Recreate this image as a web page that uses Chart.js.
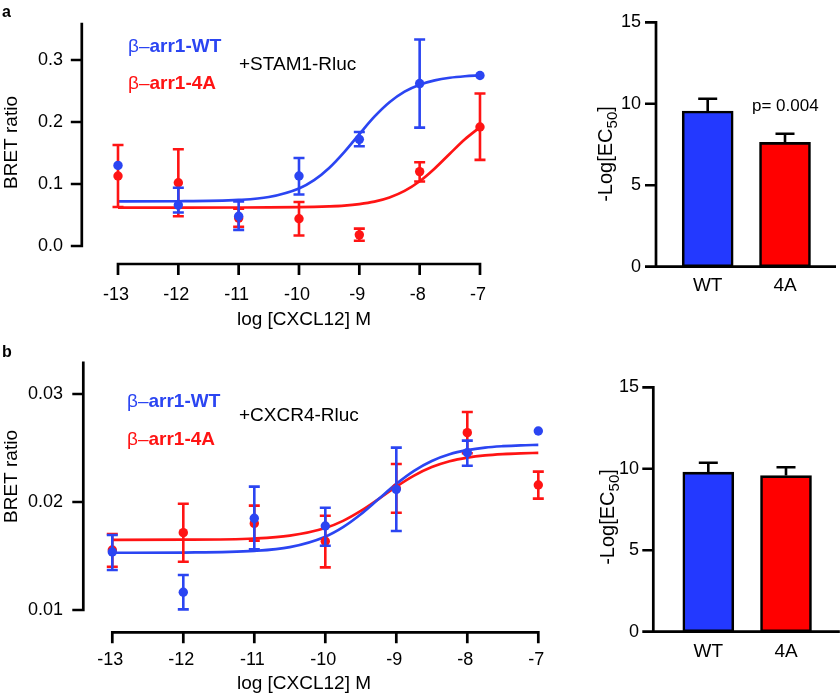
<!DOCTYPE html>
<html><head><meta charset="utf-8">
<script src="https://cdn.jsdelivr.net/npm/chart.js@4.4.1/dist/chart.umd.min.js"></script>
<style>
html,body{margin:0;padding:0;background:#fff;}
body{width:840px;height:695px;position:relative;overflow:hidden;font-family:'Liberation Sans',Arial,Helvetica,sans-serif;color:#000;}
canvas{position:absolute;}
.t{position:absolute;white-space:nowrap;line-height:1;transform:translateY(-50%);}
.r{position:absolute;white-space:nowrap;line-height:1;transform:translate(-50%,-50%) rotate(-90deg);}
.n{font-weight:400;}
.b{font-weight:700;}
</style></head><body>
<canvas id="ca" width="560" height="340" style="left:0;top:0;width:560px;height:340px"></canvas>
<canvas id="cc" width="560" height="395" style="left:0;top:300px;width:560px;height:395px"></canvas>
<canvas id="cb" width="280" height="340" style="left:560px;top:0;width:280px;height:340px"></canvas>
<canvas id="cd" width="280" height="355" style="left:560px;top:340px;width:280px;height:355px"></canvas>

<div class="t b" style="left:2px;top:11.5px;font-size:16px">a</div>
<div class="t b" style="left:2px;top:352px;font-size:16px">b</div>

<div class="t" style="left:128px;top:45px;font-size:19px;color:#2b45f2"><span class="n">β–</span><span class="b">arr1-WT</span></div>
<div class="t" style="left:128px;top:82px;font-size:19px;color:#ff1414"><span class="n">β–</span><span class="b">arr1-4A</span></div>
<div class="t" style="left:239px;top:63px;font-size:19px">+STAM1-Rluc</div>

<div class="t" style="left:127px;top:400px;font-size:19px;color:#2b45f2"><span class="n">β–</span><span class="b">arr1-WT</span></div>
<div class="t" style="left:127px;top:438px;font-size:19px;color:#ff1414"><span class="n">β–</span><span class="b">arr1-4A</span></div>
<div class="t" style="left:239px;top:414px;font-size:19px">+CXCR4-Rluc</div>

<div class="t" style="left:752px;top:104.5px;font-size:17px">p= 0.004</div>

<div class="r" style="left:605px;top:153.7px;font-size:20px">-Log[EC<sub style="font-size:15px;vertical-align:-0.3em;line-height:0">50</sub>]</div>
<div class="r" style="left:606.7px;top:517px;font-size:20px">-Log[EC<sub style="font-size:15px;vertical-align:-0.3em;line-height:0">50</sub>]</div>

<script>
// ---------- data ----------
const doseX = [-13, -12, -11, -10, -9, -8, -7];
const xTickVals = [-13, -12, -11, -10, -9, -8, -7];
const yTicksA = [0, 0.1, 0.2, 0.3];
const yTicksB = [0.01, 0.02, 0.03];
const ecTicks = [0, 5, 10, 15];

// panel a (+STAM1-Rluc): means and error-bar ends
const wtA   = [0.130, 0.066, 0.048, 0.113, 0.172, 0.262, 0.275];
const wtHiA = [null, 0.094, 0.072, 0.142, 0.184, 0.333, null];
const wtLoA = [null, 0.054, 0.026, 0.083, 0.161, 0.191, null];
const fourA_A   = [0.113, 0.102, 0.045, 0.044, 0.018, 0.120, 0.192];
const fourA_HiA = [0.163, 0.156, 0.060, 0.071, 0.028, 0.135, 0.246];
const fourA_LoA = [0.063, 0.048, 0.031, 0.017, 0.0085, 0.104, 0.139];

// panel b (+CXCR4-Rluc)
const wtB   = [0.01537, 0.01164, 0.01849, 0.01778, 0.02117, 0.02457, 0.02657];
const wtHiB = [0.01694, 0.01324, 0.02142, 0.01947, 0.02503, 0.02568, null];
const wtLoB = [0.01370, 0.01006, 0.01562, 0.01595, 0.01731, 0.02336, null];
const fourA_B   = [0.01556, 0.01716, 0.01802, 0.01636, 0.02127, 0.02642, 0.02157];
const fourA_HiB = [0.01704, 0.01984, 0.01966, 0.01873, 0.02352, 0.02833, 0.02281];
const fourA_LoB = [0.01400, 0.01447, 0.01642, 0.01395, 0.01901, 0.02451, 0.02031];

// fitted curves
const curveX = [-13, -12, -11, -10.5, -10, -9.75, -9.5, -9.25, -9, -8.75, -8.5, -8.25, -8, -7.75, -7.5, -7.25, -7];
const wtFitA    = [0.0720, 0.0722, 0.0743, 0.0790, 0.0927, 0.1061, 0.1257, 0.1513, 0.1804, 0.2086, 0.2319, 0.2490, 0.2602, 0.2672, 0.2714, 0.2738, 0.2752];
const fourAFitA = [0.0620, 0.0620, 0.0621, 0.0622, 0.0626, 0.0630, 0.0638, 0.0651, 0.0675, 0.0715, 0.0783, 0.0889, 0.1045, 0.1252, 0.1489, 0.1722, 0.1917];
const wtFitB    = [0.01530, 0.01532, 0.01547, 0.01582, 0.01679, 0.01767, 0.01886, 0.02027, 0.02168, 0.02289, 0.02380, 0.02442, 0.02480, 0.02504, 0.02517, 0.02525, 0.02529];
const fourAFitB = [0.01650, 0.01651, 0.01662, 0.01688, 0.01759, 0.01825, 0.01917, 0.02027, 0.02142, 0.02244, 0.02323, 0.02377, 0.02411, 0.02432, 0.02444, 0.02451, 0.02455];

// -Log[EC50] bars
const ecLabels = ['WT', '4A'];
const ecA = [9.55, 7.63];
const ecErrA = [0.76, 0.53];
const ecB = [9.79, 9.58];
const ecErrB = [0.58, 0.51];

// ---------- styling ----------
const FONT = "'Liberation Sans', Arial, Helvetica, sans-serif";
Chart.defaults.font.family = FONT;
Chart.defaults.color = '#000';
const BLUE = '#2b45f2', RED = '#ff1414', BAR_BLUE = '#2339ff', BAR_RED = '#ff0000';
const AXIS_W = 2.7;

const errorBars = {
  id: 'errorBars',
  beforeDatasetDraw(chart, args) {
    const ds = chart.data.datasets[args.index];
    if (!ds.errHi) return;
    const y = chart.scales.y, ctx = chart.ctx;
    ctx.save();
    ctx.strokeStyle = ds.errColor || ds.backgroundColor;
    ctx.lineWidth = 2.6;
    ctx.lineCap = 'butt';
    args.meta.data.forEach((el, i) => {
      const hi = ds.errHi[i];
      const lo = ds.errLo ? ds.errLo[i] : null;
      if (hi == null && lo == null) return;
      const px = el.x;
      const yTop = hi != null ? y.getPixelForValue(hi) : el.y;
      const yBot = lo != null ? y.getPixelForValue(lo) : el.y;
      const c = ds.capHalf;
      ctx.beginPath();
      ctx.moveTo(px, yTop); ctx.lineTo(px, yBot);
      if (hi != null) { ctx.moveTo(px - c, yTop); ctx.lineTo(px + c, yTop); }
      if (lo != null) { ctx.moveTo(px - c, yBot); ctx.lineTo(px + c, yBot); }
      ctx.stroke();
    });
    ctx.restore();
  }
};

const offsetAxes = {
  id: 'offsetAxes',
  afterDraw(chart, args, o) {
    const {ctx, chartArea: ca, scales: {x, y}} = chart;
    const lw = AXIS_W;
    const yx = o.yAxisValue != null ? x.getPixelForValue(o.yAxisValue) : ca.left - o.yGap;
    const xy = ca.bottom;
    const x0 = o.xFrom != null ? x.getPixelForValue(o.xFrom) - lw / 2 : yx - lw / 2;
    const x1 = o.xTo != null ? x.getPixelForValue(o.xTo) + lw / 2 : ca.right + o.xOver;
    const y0 = y.getPixelForValue(o.yFrom), y1 = y.getPixelForValue(o.yTo);
    ctx.save();
    ctx.strokeStyle = '#000';
    ctx.lineWidth = lw;
    ctx.lineCap = 'butt';
    ctx.beginPath();
    ctx.moveTo(yx, y0 + lw / 2); ctx.lineTo(yx, y1);
    y.ticks.forEach(t => {
      const p = y.getPixelForValue(t.value);
      ctx.moveTo(yx - o.tickLen, p); ctx.lineTo(yx + lw / 2, p);
    });
    ctx.moveTo(x0, xy); ctx.lineTo(x1, xy);
    if (o.xTickMarks) {
      x.ticks.forEach(t => {
        const p = x.getPixelForValue(t.value);
        ctx.moveTo(p, xy - lw / 2); ctx.lineTo(p, xy + o.tickLen);
      });
    }
    ctx.stroke();
    ctx.restore();
  }
};

function pts(xs, ys) { return xs.map((x, i) => ({x: x, y: ys[i]})); }
// hidden grid; the label gap is made from an invisible tick length plus a small padding
function hiddenGrid(gap) { return { display: false, drawTicks: true, tickLength: gap, color: 'rgba(0,0,0,0)' }; }

function doseChart(id, cfg) {
  return new Chart(document.getElementById(id), {
    type: 'scatter',
    data: {
      datasets: [
        { label: 'β-arr1-WT', data: pts(doseX, cfg.wt), backgroundColor: BLUE, pointRadius: 4.7, pointBorderWidth: 0,
          errHi: cfg.wtHi, errLo: cfg.wtLo, capHalf: 5.5, clip: false },
        { label: 'β-arr1-4A', data: pts(doseX, cfg.fa), backgroundColor: RED, pointRadius: 4.7, pointBorderWidth: 0,
          errHi: cfg.faHi, errLo: cfg.faLo, capHalf: 5.5, clip: false },
        { label: 'WT fit', data: pts(curveX, cfg.wtFit), showLine: true, borderColor: BLUE, borderWidth: 2.7,
          pointRadius: 0, cubicInterpolationMode: 'monotone', clip: false },
        { label: '4A fit', data: pts(curveX, cfg.faFit), showLine: true, borderColor: RED, borderWidth: 2.7,
          pointRadius: 0, cubicInterpolationMode: 'monotone', clip: false }
      ]
    },
    options: {
      responsive: false, animation: false, devicePixelRatio: 1, events: [],
      layout: { padding: cfg.pad },
      plugins: { legend: { display: false }, tooltip: { enabled: false },
        offsetAxes: { yAxisValue: cfg.yAxisAt, xFrom: -13, xTo: -7, yFrom: cfg.yFrom, yTo: cfg.yTo, tickLen: 11, xTickMarks: true } },
      scales: {
        x: { type: 'linear', min: cfg.xMin, max: cfg.xMax,
          grid: hiddenGrid(cfg.xGap - 3), border: { display: false },
          afterBuildTicks: s => { s.ticks = xTickVals.map(v => ({value: v})); },
          afterFit: s => { s.height = cfg.xH; },
          ticks: { padding: 3, labelOffset: -2, autoSkip: false, maxRotation: 0, font: { size: 18 }, callback: v => String(v) },
          title: { display: true, text: 'log [CXCL12] M', font: { size: 19 }, padding: 0 } },
        y: { type: 'linear', min: cfg.yMin, max: cfg.yMax,
          grid: hiddenGrid(cfg.yGap - 3), border: { display: false },
          afterBuildTicks: s => { s.ticks = cfg.yTicks.map(v => ({value: v})); },
          afterFit: s => { s.width = cfg.yW; },
          ticks: { padding: 3, font: { size: 18 }, callback: v => v.toFixed(cfg.dec) },
          title: { display: true, text: 'BRET ratio', font: { size: 19 }, padding: 0 } }
      }
    },
    plugins: [errorBars, offsetAxes]
  });
}

doseChart('ca', {
  wt: wtA, wtHi: wtHiA, wtLo: wtLoA, fa: fourA_A, faHi: fourA_HiA, faLo: fourA_LoA,
  wtFit: wtFitA, faFit: fourAFitA, yTicks: yTicksA, dec: 1,
  pad: { left: 0, top: 21, right: 70, bottom: 8.6 },
  xMin: -13, xMax: -6.834, yMin: -0.029, yMax: 0.3629,
  xH: 67.4, yW: 118, xGap: 20, yGap: 55, yAxisAt: -13.6, yFrom: 0, yTo: 0.36
});

doseChart('cc', {
  wt: wtB, wtHi: wtHiB, wtLo: wtLoB, fa: fourA_B, faHi: fourA_HiB, faLo: fourA_LoB,
  wtFit: wtFitB, faFit: fourAFitB, yTicks: yTicksB, dec: 2,
  pad: { left: 0, top: 20.7, right: 21.7, bottom: 0 },
  xMin: -13.6, xMax: -7, yMin: 0.007935, yMax: 0.036787,
  xH: 62.7, yW: 69.7, xGap: 17, yGap: 6.7, yAxisAt: -13.4085, yFrom: 0.01, yTo: 0.033
});

function ecChart(id, cfg) {
  return new Chart(document.getElementById(id), {
    type: 'bar',
    data: {
      labels: ecLabels,
      datasets: [{ label: '-Log[EC50]', data: cfg.vals, backgroundColor: [BAR_BLUE, BAR_RED], borderColor: '#000',
        borderWidth: 2.6, borderSkipped: false, barThickness: 51,
        errHi: cfg.vals.map((v, i) => v + cfg.errs[i]), errColor: '#000', capHalf: 9.5 }]
    },
    options: {
      responsive: false, animation: false, devicePixelRatio: 1, events: [],
      layout: { padding: cfg.pad },
      plugins: { legend: { display: false }, tooltip: { enabled: false },
        offsetAxes: { yGap: cfg.yGap, xOver: cfg.xOver, yFrom: 0, yTo: 15, tickLen: 11, xTickMarks: false } },
      scales: {
        x: { grid: hiddenGrid(cfg.xLab - 3), border: { display: false },
          afterFit: s => { s.height = 40; },
          ticks: { padding: 3, font: { size: 19 } } },
        y: { min: 0, max: 15, grid: hiddenGrid(cfg.yLab - 5), border: { display: false },
          afterBuildTicks: s => { s.ticks = ecTicks.map(v => ({value: v})); },
          afterFit: s => { s.width = cfg.yW; },
          ticks: { padding: 5, font: { size: 18 } } }
      }
    },
    plugins: [errorBars, offsetAxes]
  });
}

ecChart('cb', { vals: ecA, errs: ecErrA, pad: { left: 0, top: 22.3, right: 16.35, bottom: 33.3 },
  yW: 109.05, yGap: 13.05, xOver: 12.35, xLab: 7.9, yLab: 28 });
ecChart('cd', { vals: ecB, errs: ecErrB, pad: { left: 0, top: 47.3, right: 15.15, bottom: 23.3 },
  yW: 109.45, yGap: 16.15, xOver: 15, xLab: 8.6, yLab: 30.45 });
</script>
</body></html>
